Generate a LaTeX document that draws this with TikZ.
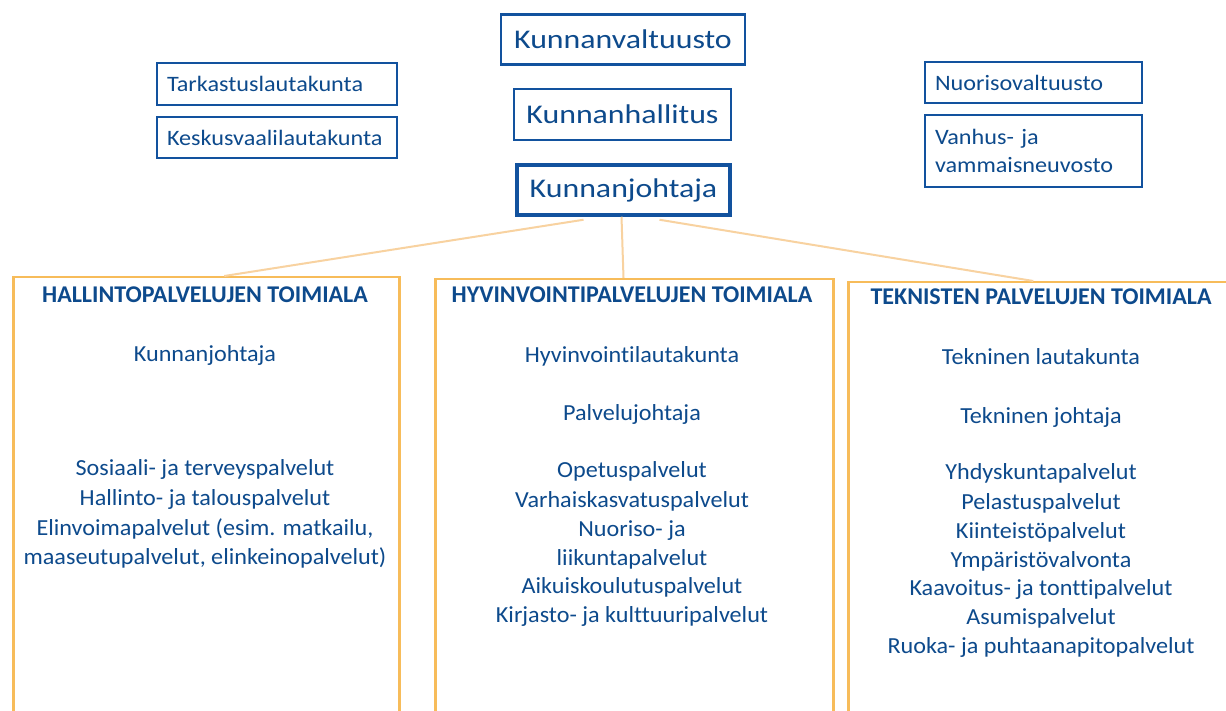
\documentclass[tikz,border=0pt]{standalone}
\usepackage{fontspec}
\setmainfont[Ligatures=NoCommon]{Carlito}
\newfontfamily\bigf[FakeStretch=1.18,Ligatures=NoCommon]{Carlito}
\newfontfamily\smf[FakeStretch=1.1,Ligatures=NoCommon]{Carlito}
\newfontfamily\lstf[FakeStretch=1.05,Ligatures=NoCommon]{Carlito}
\definecolor{txt}{HTML}{0D4A8C}
\definecolor{bbox}{HTML}{12529E}
\definecolor{obox}{HTML}{F7BC5A}
\definecolor{oline}{HTML}{F8D2A0}
\tikzset{
  topbox/.style={draw=bbox, line width=2.5pt, text=txt, inner sep=0pt, align=center,
    font=\bigf\fontsize{27}{32}\selectfont},
  sidebox/.style={draw=bbox, line width=2.5pt, text=txt, inner xsep=10pt, inner ysep=0pt,
    align=left, font=\smf\fontsize{22}{28}\selectfont},
  areabox/.style={draw=obox, line width=2.5pt, anchor=north west, inner sep=0pt},
  ttl/.style={anchor=base, text=txt, inner sep=0pt, font=\bfseries\fontsize{24}{28}\selectfont},
  lbl/.style={anchor=base, text=txt, inner sep=0pt, font=\lstf\fontsize{23}{28}\selectfont},
  conn/.style={draw=oline, line width=2pt}
}
\begin{document}
\begin{tikzpicture}[x=1pt,y=-1pt]
\path[use as bounding box] (0,0) rectangle (1226,711);
\fill[white] (0,0) rectangle (1226,711);
\begin{scope}
\clip (0,0) rectangle (1226,711);
% top boxes
\node[topbox, minimum width=244pt, minimum height=50pt] (kv) at (623,39.5) {Kunnanvaltuusto};
\node[topbox, minimum width=217pt, minimum height=51pt] (kh) at (622.5,114.5) {Kunnanhallitus};
\node[topbox, line width=3.5pt, minimum width=213pt, minimum height=50pt] (kj) at (623.5,190) {Kunnanjohtaja};
% side boxes
\node[sidebox, text width=220pt, minimum height=42pt] (tl) at (277,84) {Tarkastuslautakunta};
\node[sidebox, text width=220pt, minimum height=41pt] (kvl) at (277,137.5) {Keskusvaalilautakunta};
\node[sidebox, text width=197pt, minimum height=41pt] (nv) at (1033.5,82.5) {Nuorisovaltuusto};
\node[sidebox, text width=197pt, minimum height=72pt] (vv) at (1033.5,151) {Vanhus- ja\\vammaisneuvosto};
% area boxes
\node[areabox, minimum width=386pt, minimum height=480pt] (hal) at (12,276) {};
\node[areabox, minimum width=398pt, minimum height=480pt] (hyv) at (434,278) {};
\node[areabox, minimum width=400pt, minimum height=480pt] (tek) at (847,281) {};
% connectors
\draw[conn] ([xshift=-40pt,yshift=-3pt]kj.south) -- ([xshift=18pt]hal.north);
\draw[conn] ([xshift=-2pt]kj.south) -- (hyv.north -| kj.south);
\draw[conn] ([xshift=36pt,yshift=-3pt]kj.south) -- ([xshift=-15pt]tek.north);
% left area
\node[ttl] (h0) at (205,302) {HALLINTOPALVELUJEN TOIMIALA};
\node[lbl] (h1) at (205,361) {Kunnanjohtaja};
\node[lbl] (h2) at (205,475) {Sosiaali- ja terveyspalvelut};
\node[lbl] (h3) at (205,505) {Hallinto- ja talouspalvelut};
\node[lbl] (h4) at (205,535) {Elinvoimapalvelut (esim. matkailu,};
\node[lbl] (h5) at (205,564) {maaseutupalvelut, elinkeinopalvelut)};
% middle area
\node[ttl] (y0) at (632,303) {HYVINVOINTIPALVELUJEN TOIMIALA};
\node[lbl] (y1) at (632,362) {Hyvinvointilautakunta};
\node[lbl] (y2) at (632,420) {Palvelujohtaja};
\node[lbl] (y3) at (632,477) {Opetuspalvelut};
\node[lbl] (y4) at (632,507) {Varhaiskasvatuspalvelut};
\node[lbl] (y5) at (632,536) {Nuoriso- ja};
\node[lbl] (y6) at (632,565) {liikuntapalvelut};
\node[lbl] (y7) at (632,593) {Aikuiskoulutuspalvelut};
\node[lbl] (y8) at (632,622) {Kirjasto- ja kulttuuripalvelut};
% right area
\node[ttl] (t0) at (1041,305) {TEKNISTEN PALVELUJEN TOIMIALA};
\node[lbl] (t1) at (1041,364) {Tekninen lautakunta};
\node[lbl] (t2) at (1041,423) {Tekninen johtaja};
\node[lbl] (t3) at (1041,479) {Yhdyskuntapalvelut};
\node[lbl] (t4) at (1041,509) {Pelastuspalvelut};
\node[lbl] (t5) at (1041,538) {Kiinteistöpalvelut};
\node[lbl] (t6) at (1041,567) {Ympäristövalvonta};
\node[lbl] (t7) at (1041,595) {Kaavoitus- ja tonttipalvelut};
\node[lbl] (t8) at (1041,624) {Asumispalvelut};
\node[lbl] (t9) at (1041,653) {Ruoka- ja puhtaanapitopalvelut};
\end{scope}
\end{tikzpicture}
\end{document}
